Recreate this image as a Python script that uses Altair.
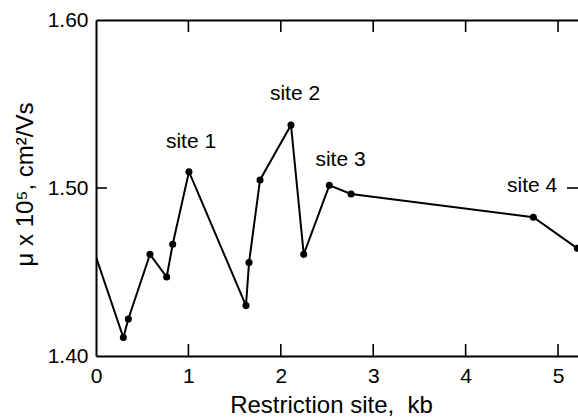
import altair as alt
import pandas as pd

# ---- data ----
x_kb = [0.0, 0.296, 0.35, 0.584, 0.765, 0.83, 1.006, 1.623, 1.656, 1.775,
        2.11, 2.248, 2.525, 2.76, 4.733, 5.209]
mu = [1.459, 1.411, 1.422, 1.4605, 1.447, 1.4665, 1.5097, 1.430, 1.4556, 1.5048,
      1.5375, 1.4605, 1.5016, 1.4964, 1.4826, 1.4641]
has_marker = [False, True, True, True, True, True, True, True, True, True,
              True, True, True, True, True, True]

site_labels = ["site 1", "site 2", "site 3", "site 4"]
site_x = [1.028, 2.154, 2.646, 4.72]
site_y = [1.5274, 1.556, 1.5167, 1.5012]

x_label_values = [0, 1, 2, 3, 4, 5]
x_tick_values = [1, 2, 3, 4, 5]
y_label_values = [1.40, 1.50, 1.60]
y_tick_values = [1.50]

W, H = 482, 336
FONT = "Liberation Sans"

df = pd.DataFrame({"kb": x_kb, "mu": mu, "marker": has_marker})
sites = pd.DataFrame({"kb": site_x, "mu": site_y, "label": site_labels})
xt = pd.DataFrame({"kb": x_tick_values})
yt = pd.DataFrame({"mu": y_tick_values})

xscale = alt.Scale(domain=[0, 5.216], nice=False, zero=False)
yscale = alt.Scale(domain=[1.40, 1.60], nice=False, zero=False)

line = alt.Chart(df).mark_line(color="black", strokeWidth=2, clip=True).encode(
    x=alt.X("kb:Q", scale=xscale,
            axis=alt.Axis(orient="bottom", values=x_label_values, ticks=False,
                          domainColor="black", domainWidth=2, labelPadding=9,
                          labelFlush=False,
                          labelFontSize=21, labelFont=FONT, labelColor="black",
                          title="Restriction site,\u00a0\u00a0kb", titleFontSize=24,
                          titleFont=FONT, titleFontWeight="normal",
                          titleColor="black", titlePadding=7, titleX=235,
                          grid=False)),
    y=alt.Y("mu:Q", scale=yscale,
            axis=alt.Axis(orient="left", values=y_label_values, format=".2f",
                          ticks=False, domainColor="black", domainWidth=2,
                          labelFlush=False,
                          labelPadding=8, labelFontSize=21, labelFont=FONT,
                          labelColor="black", title="μ x 10⁵, cm²/Vs",
                          titleFontSize=24, titleFont=FONT,
                          titleFontWeight="normal", titleColor="black",
                          titlePadding=10, titleY=164, grid=False)),
)

points = alt.Chart(df).transform_filter("datum.marker").mark_circle(
    size=50, color="black", opacity=1, clip=True).encode(
    x=alt.X("kb:Q", scale=xscale,
            axis=alt.Axis(orient="top", labels=False, ticks=False, domain=True,
                          domainColor="black", domainWidth=2, title=None,
                          grid=False)),
    y=alt.Y("mu:Q", scale=yscale, axis=None),
)

text = alt.Chart(sites).mark_text(font=FONT, fontSize=21, color="black",
                                  align="center", baseline="middle").encode(
    x=alt.X("kb:Q", scale=xscale, axis=None),
    y=alt.Y("mu:Q", scale=yscale, axis=None),
    text="label:N",
)

tick_bottom = alt.Chart(xt).mark_rule(color="black", strokeWidth=1.6).encode(
    x=alt.X("kb:Q", scale=xscale, axis=None),
    y=alt.value(H - 12), y2=alt.value(H))
tick_top = alt.Chart(xt).mark_rule(color="black", strokeWidth=1.6).encode(
    x=alt.X("kb:Q", scale=xscale, axis=None),
    y=alt.value(0), y2=alt.value(12))
tick_left = alt.Chart(yt).mark_rule(color="black", strokeWidth=1.6).encode(
    y=alt.Y("mu:Q", scale=yscale, axis=None),
    x=alt.value(0), x2=alt.value(11))
tick_right = alt.Chart(yt).mark_rule(color="black", strokeWidth=1.6).encode(
    y=alt.Y("mu:Q", scale=yscale, axis=None),
    x=alt.value(W - 11), x2=alt.value(W))

chart = alt.layer(line, points, text, tick_bottom, tick_top, tick_left,
                  tick_right).resolve_axis(x="independent", y="independent").properties(
    width=W, height=H,
    autosize=alt.AutoSizeParams(type="none"),
    padding={"left": 96, "top": 20, "right": 0, "bottom": 61},
).configure_view(stroke=None).configure(background="white")

chart.save("out.html", embed_options={"renderer": "svg", "actions": False})
